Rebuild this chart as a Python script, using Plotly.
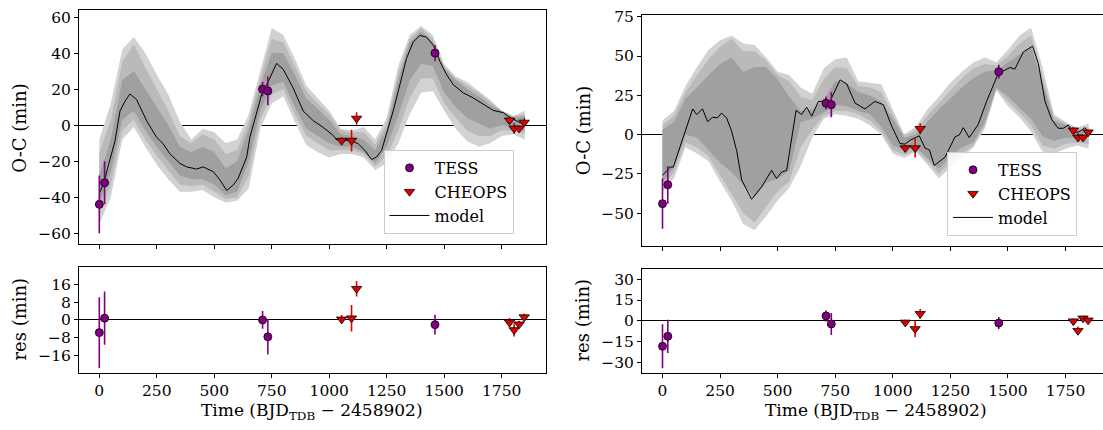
import plotly.graph_objects as go

# ---------------- data ----------------
tess_t = [0, 23, 710, 733, 1460]
tess_oc = [-44, -32, 20, 19, 40]
tess_err = [16, 12, 4, 8, 4.5]
tess_res_left = [-5.7, 0.8, 0.0, -7.6, -2.1]
tess_res_right = [-18.5, -11.3, 3.5, -2.3, -1.7]

cheops_t = [1054, 1097, 1119, 1784, 1804, 1826, 1848]
cheops_oc = [-8.6, -8.6, 3.7, 2.7, -1.8, -1.8, 1.5]
cheops_err = [2, 6, 3.5, 2, 3, 1.5, 1.5]
cheops_res_left = [0.3, 0.8, 14.1, -1.1, -4.5, -1.9, 1.3]
cheops_res_right = [-1.2, -5.9, 5.0, -0.3, -7.2, 1.8, 0.3]

# model curves (traced)
lm_t = [0, 20, 40, 68, 90, 112, 133, 162, 206, 249, 278, 307, 351, 380, 423, 452, 496, 525, 554,
        583, 604, 641, 655, 677, 706, 735, 771, 800, 843, 887, 931, 974, 1018, 1032, 1075, 1097,
        1126, 1155, 1184, 1206, 1228, 1249, 1278, 1307, 1336, 1365, 1394, 1423, 1453, 1482, 1511,
        1540, 1583, 1626, 1670, 1713, 1757, 1786, 1815, 1844, 1850]
lm_v = [-38, -32, -22, -9, 7.8, 13.3, 17.3, 14.2, 2.4, -6.7, -10.4, -15.9, -21.3, -23.2, -24.4,
        -23.2, -25.9, -30.5, -36.3, -33.2, -29.5, -17.7, -6.7, 4.2, 17, 24.3, 34.3, 31, 20.6, 7.8,
        2.4, -1.3, -5.8, -8.2, -8.6, -8.6, -10.4, -14.0, -19.1, -17.7, -14.0, -4.9, 7.8, 22.4, 37,
        46.1, 49.8, 48.9, 44.3, 35.2, 27.9, 22.4, 17.9, 15.1, 11.5, 8.2, 6.9, 4.2, 2.4, 0.5, 4]

rm_t = [0, 33, 47, 131, 148, 174, 196, 217, 239, 256, 278, 300, 322, 344, 387, 430, 474, 495, 517,
        539, 580, 604, 626, 648, 677, 727, 771, 800, 836, 879, 922, 959, 995, 1031, 1053, 1075,
        1115, 1140, 1159, 1180, 1227, 1270, 1289, 1306, 1332, 1371, 1407, 1458, 1487, 1509, 1530,
        1567, 1607, 1632, 1661, 1690, 1718, 1740, 1762, 1776, 1798, 1820, 1834, 1850]
rm_v = [-26, -20.7, -20.7, 16.3, 12.8, 16.3, 8.2, 11, 10.7, 13.6, 10.7, 2.3, -10.3, -29, -41.2,
        -33.3, -22.8, -28, -23.9, -22.8, 15.3, 12.8, 17.4, 11.7, 21.1, 21.1, 34.8, 32.2, 20.1, 16.3,
        21.1, 19, 5.4, -5.7, -6.1, -3.6, -0.8, -8.6, -9.8, -19.7, -14.4, -1.5, -0.2, 4.4, -1.9, 6.5,
        21.1, 39, 41, 42.7, 41.7, 52.6, 56.3, 45.2, 21.1, 9.6, 4, 4, 6.1, 2.7, 1.3, 2.7, 4.4, 1.3]

# credible bands on a 50-day grid
band_t = [0, 50, 100, 150, 200, 250, 300, 350, 400, 450, 500, 550, 600, 650, 700, 750, 800, 850, 900,
          950, 1000, 1050, 1100, 1150, 1200, 1250, 1300, 1350, 1400, 1450, 1500, 1550, 1600, 1650,
          1700, 1750, 1800, 1850]

L_u3 = [-8, 12, 42, 49, 40, 28, 17, 2, -8, -2, -4, -10, -8, 6, 30, 54, 50, 37, 22, 15, 8, -2, -3, -1,
        -8, 4, 33, 50, 55, 50, 34, 27, 24, 19, 14, 8, 5, 8]
L_u2 = [-15, 3, 35, 45, 32, 20, 8, -6, -10, -5, -8, -16, -14, 2, 26, 48, 46, 33, 19, 12, 6, -3, -4,
        -4, -11, 1, 29, 48, 54, 48, 32.5, 26, 22, 18, 13, 8, 5, 6]
L_u1 = [-28, -8, 25, 30, 20, 10, 0, -12, -15, -12, -15, -24, -20, -2, 22, 40, 40, 28, 15, 9, 3, -5,
        -6, -8, -14, -2, 25, 46, 52, 46, 31.5, 25, 20, 16, 11, 8, 4, 5]
L_l1 = [-44, -26, 3, 8, -3, -12, -20, -28, -30, -30, -33, -39, -37, -20, 8, 22, 24, 10, -2, -6, -10,
        -12, -12, -15, -21, -12, 5, 25, 34, 33, 18, 10, 4, 1, -2, 0, -1, -3]
L_l2 = [-50, -33, -3, 3, -8, -17, -25, -33, -34, -33, -37, -41, -40, -28, 3, 17, 20, 6, -6, -10, -14,
        -14, -14, -16, -23, -17, -3, 15, 26, 26, 12, 4, -3, -6, -6, -3, -3, -5]
L_l3 = [-55, -40, -8, -1, -12, -22, -30, -37, -37, -36, -40, -43, -42, -35, -2, 12, 16, 2, -11, -15,
        -18, -16, -16, -18, -25, -21, -10, 6, 18, 19, 8, -2, -9, -12, -10, -6, -5, -8]

R_u3 = [9, 15, 31, 43, 54, 60, 63, 58, 57, 49, 40, 38, 30, 26, 42, 48, 49, 34, 33, 32, 16, 0, 5, 16,
        24, 33, 40, 46, 49, 46, 54, 63, 68, 43, 13, 8, 4.5, 7]
R_u2 = [6, 12, 27, 38, 48, 56, 61, 53, 53, 47, 38, 34, 24, 22, 35, 43, 42, 31, 30, 27, 13, -1, 3, 12,
        20, 28, 36, 42, 45, 44, 50, 58, 63, 37, 11, 7, 3.5, 5]
R_u1 = [3, 8, 23, 30, 38, 45, 49, 40, 43, 43, 35, 24, 15, 16, 22, 34, 33, 27, 25, 21, 10, -2, 0, 8,
        16, 23, 30, 36, 40, 41, 46, 51, 56, 33, 9, 6, 2.5, 3]
R_l1 = [-30, -21, 0, -2, -10, -18, -24, -32, -40, -31, -28, -23, 8, 10, 14, 19, 18, 15, 13, 5, -7,
        -10, -8, -15, -22, -14, -8, -5, 8, 30, 24, 17, 10, -1, -4, -2, -2, -1]
R_l2 = [-33, -24, -5, -8, -14, -26, -38, -50, -56, -46, -36, -30, -8, 3, 12, 15, 15, 13, 9, 2, -10,
        -13, -10, -17, -25, -18, -12, -7, 6, 29, 21, 14, 6, -7, -9, -6, -5, -6]
R_l3 = [-36, -28, -8, -12, -17, -30, -42, -57, -61, -52, -42, -34, -20, -2, 10, 13, 12, 10, 6, 0, -12,
        -15, -11, -19, -28, -21, -15, -8, 4, 28, 18, 11, 2, -11, -12, -9, -7, -9]

x_ticks = [0, 250, 500, 750, 1000, 1250, 1500, 1750]
oc_ticks_left = [-60, -40, -20, 0, 20, 40, 60]
oc_ticks_right = [-50, -25, 0, 25, 50, 75]
res_ticks_left = [-16, -8, 0, 8, 16]
res_ticks_right = [-30, -15, 0, 15, 30]

# ---------------- style ----------------
W, H = 1103, 430
FONT = "DejaVu Serif"
C_LIGHT, C_MID, C_DARK = "#d2d2d2", "#bababa", "#a0a0a0"
TESS_C, CHEOPS_C = "#800080", "#e00000"


def px(a):
    return a / W


def py(a):
    return 1 - a / H


def dx(a, b):
    return [px(a), min(px(b), 1.0)]


def dy(top, bot):
    return [py(bot), min(py(top), 1.0)]


fig = go.Figure()


def add_bands(xa, ya, up, lo):
    for (u, l), col in zip(zip(up, lo), [C_LIGHT, C_MID, C_DARK]):
        fig.add_trace(go.Scatter(x=band_t + band_t[::-1], y=u + l[::-1], fill="toself",
                                 fillcolor=col, line=dict(width=0), mode="lines",
                                 hoverinfo="skip", showlegend=False, xaxis=xa, yaxis=ya))


def add_points(xa, ya, ty, cy, legend=None):
    fig.add_trace(go.Scatter(x=tess_t, y=ty, mode="markers", name="TESS",
                             marker=dict(symbol="circle", size=8, color=TESS_C,
                                         line=dict(color="black", width=0.8)),
                             error_y=dict(type="data", array=tess_err, color=TESS_C,
                                          thickness=1.6, width=0),
                             showlegend=legend is not None, legend=legend or "legend",
                             xaxis=xa, yaxis=ya))
    fig.add_trace(go.Scatter(x=cheops_t, y=cy, mode="markers", name="CHEOPS",
                             marker=dict(symbol="triangle-down", size=9, color=CHEOPS_C,
                                         line=dict(color="black", width=0.8)),
                             error_y=dict(type="data", array=cheops_err, color=CHEOPS_C,
                                          thickness=1.6, width=0),
                             showlegend=legend is not None, legend=legend or "legend",
                             xaxis=xa, yaxis=ya))


# left top
add_bands("x", "y", [L_u3, L_u2, L_u1], [L_l3, L_l2, L_l1])
fig.add_trace(go.Scatter(x=lm_t, y=lm_v, mode="lines", line=dict(color="black", width=1),
                         showlegend=False, xaxis="x", yaxis="y", name="model"))
add_points("x", "y", tess_oc, cheops_oc, legend="legend")
fig.add_trace(go.Scatter(x=[None], y=[None], mode="lines", line=dict(color="black", width=1),
                         name="model", legend="legend", xaxis="x", yaxis="y"))
# left bottom
add_points("x2", "y2", tess_res_left, cheops_res_left)
# right top
add_bands("x3", "y3", [R_u3, R_u2, R_u1], [R_l3, R_l2, R_l1])
fig.add_trace(go.Scatter(x=rm_t, y=rm_v, mode="lines", line=dict(color="black", width=1),
                         showlegend=False, xaxis="x3", yaxis="y3", name="model"))
add_points("x3", "y3", tess_oc, cheops_oc, legend="legend2")
fig.add_trace(go.Scatter(x=[None], y=[None], mode="lines", line=dict(color="black", width=1),
                         name="model", legend="legend2", xaxis="x3", yaxis="y3"))
# right bottom
add_points("x4", "y4", tess_res_right, cheops_res_right)

tickfont = dict(family=FONT, size=15.5, color="black")


def xax(domain, anchor, rng, labels, mirror=True):
    return dict(domain=domain, anchor=anchor, range=rng, tickvals=x_ticks,
                showticklabels=labels, ticks="outside", ticklen=4, tickwidth=1,
                tickcolor="black", showline=True, linecolor="black", linewidth=1,
                mirror=mirror, showgrid=False, zeroline=False, tickfont=tickfont)


def yax(domain, anchor, rng, tv, mirror=True):
    return dict(domain=domain, anchor=anchor, range=rng, tickvals=tv,
                ticktext=[str(v).replace("-", "\u2212") for v in tv],
                ticks="outside", ticklen=4, tickwidth=1, tickcolor="black",
                showline=True, linecolor="black", linewidth=1, mirror=mirror,
                showgrid=False, zeroline=True, zerolinecolor="black", zerolinewidth=1.2,
                tickfont=tickfont)


LX = dx(79, 545.7)
RX = dx(642, 1103)
legend_style = dict(xanchor="left", yanchor="top",
                    bgcolor="rgba(255,255,255,0.85)", bordercolor="#cccccc", borderwidth=1,
                    font=dict(family=FONT, size=16, color="black"), tracegroupgap=0,
                    itemwidth=40)
fig.update_layout(
    width=W, height=H, margin=dict(l=0, r=0, t=0, b=0),
    paper_bgcolor="white", plot_bgcolor="white",
    font=dict(family=FONT, color="black"),
    xaxis=xax(LX, "y", [-88.3, 1941.4], False),
    yaxis=yax(dy(4.3, 241.7), "x", [-66.2, 63.8], oc_ticks_left),
    xaxis2=xax(LX, "y2", [-88.3, 1941.4], True),
    yaxis2=yax(dy(264.7, 371.7), "x2", [-23.7, 23.9], res_ticks_left),
    xaxis3=xax(RX, "y3", [-89, 1912.7], False),
    yaxis3=yax(dy(8.7, 243.3), "x3", [-70.9, 76.4], oc_ticks_right, mirror=False),
    xaxis4=xax(RX, "y4", [-89, 1912.7], True),
    yaxis4=yax(dy(266.7, 371.7), "x4", [-37.5, 37.5], res_ticks_right, mirror=False),
    legend=dict(x=px(383.5), y=py(146), **legend_style),
    legend2=dict(x=px(947), y=py(148), **legend_style),
    showlegend=True,
)

annots = [
    dict(text="O-C (min)", x=px(19.5), y=py(124), textangle=-90, size=18),
    dict(text="res (min)", x=px(20), y=py(318), textangle=-90, size=18),
    dict(text="O-C (min)", x=px(583), y=py(127), textangle=-90, size=18),
    dict(text="res (min)", x=px(583), y=py(319), textangle=-90, size=18),
    dict(text="Time (BJD<sub>TDB</sub> \u2212 2458902)", x=px(312), y=py(411), textangle=0, size=17),
    dict(text="Time (BJD<sub>TDB</sub> \u2212 2458902)", x=px(876), y=py(411), textangle=0, size=17),
]
for a in annots:
    size = a.pop("size")
    fig.add_annotation(xref="paper", yref="paper", showarrow=False,
                       font=dict(family=FONT, size=size, color="black"),
                       xanchor="center", yanchor="middle", **a)

# remove the browser's default 8px page margin so the figure sits at the window origin
fig.write_html("out.html", config={"displayModeBar": False},
               post_script="document.body.style.margin='0px';")
